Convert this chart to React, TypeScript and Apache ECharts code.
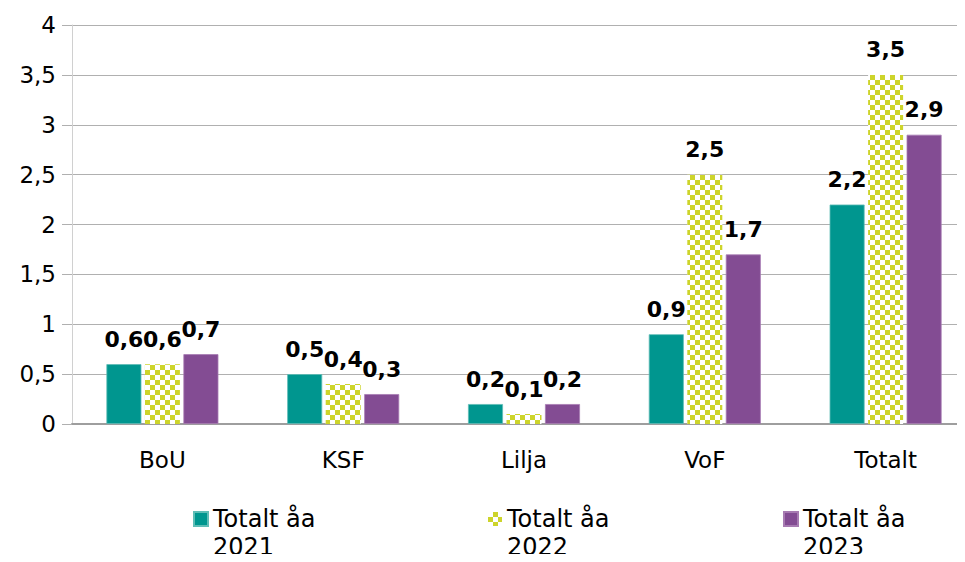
import React, { useEffect, useRef } from "react";
import * as echarts from "echarts";

const categories = ["BoU", "KSF", "Lilja", "VoF", "Totalt"];
const yearNames = ["Totalt åa 2021", "Totalt åa 2022", "Totalt åa 2023"];
const values2021 = [0.6, 0.5, 0.2, 0.9, 2.2];
const values2022 = [0.6, 0.4, 0.1, 2.5, 3.5];
const values2023 = [0.7, 0.3, 0.2, 1.7, 2.9];

const FONT = "'DejaVu Sans', sans-serif";
const fmt = (v: number) => String(v).replace(".", ",");

export default function App() {
  const ref = useRef<HTMLDivElement>(null);
  useEffect(() => {
    if (!ref.current) return;
    const chart = echarts.init(ref.current, null, { renderer: "svg" });
    const label = {
      show: true,
      position: "top",
      distance: 14,
      fontFamily: FONT,
      fontWeight: "bold",
      fontSize: 22,
      color: "#000",
      formatter: (p: any) => fmt(p.value),
    };
    const checker = {
      symbol: "rect",
      symbolSize: 1,
      color: "#cdd42b",
      backgroundColor: "#ffffff",
      dashArrayX: [
        [5, 5],
        [0, 5, 5, 0],
      ],
      dashArrayY: [5, 0],
      rotation: 0,
    };
    const legendBase = (name: string, left: number) => ({
      show: true,
      data: [name],
      left,
      top: 477,
      padding: 0,
      icon: "rect",
      itemWidth: 14,
      itemHeight: 14,
      itemGap: 5,
      formatter: (n: string) => n.replace(/^(.*) (\d{4})$/, " \n$1\n$2"),
      textStyle: {
        fontFamily: FONT,
        fontSize: 24,
        color: "#000",
        lineHeight: 28,
      },
    });
    chart.setOption({
      animation: false,
      backgroundColor: "#ffffff",
      textStyle: { fontFamily: FONT },
      grid: { left: 72, top: 25, width: 904, height: 399, containLabel: false },
      legend: [
        legendBase(yearNames[0], 193),
        legendBase(yearNames[1], 488),
        legendBase(yearNames[2], 783),
      ],
      xAxis: {
        type: "category",
        data: categories,
        axisLine: { lineStyle: { color: "#9e9e9e", width: 2 } },
        axisTick: { show: false },
        axisLabel: { fontFamily: FONT, fontSize: 23, color: "#000", margin: 24 },
      },
      yAxis: {
        type: "value",
        min: 0,
        max: 4,
        interval: 0.5,
        axisLine: { show: true, lineStyle: { color: "#d0d0d0", width: 1 } },
        axisTick: { show: true, length: 10, lineStyle: { color: "#b0b0b0" } },
        splitLine: { lineStyle: { color: "#b0b0b0", width: 1 } },
        axisLabel: {
          fontFamily: FONT,
          fontSize: 23,
          color: "#000",
          margin: 16,
          formatter: (v: number) => fmt(v),
        },
      },
      series: [
        {
          name: yearNames[0],
          type: "bar",
          data: values2021,
          barWidth: 35,
          barGap: "10%",
          itemStyle: { color: "#00968f", borderColor: "#5fbdb6", borderWidth: 0.8 },
          label,
        },
        {
          name: yearNames[1],
          type: "bar",
          data: values2022,
          barWidth: 35,
          barGap: "10%",
          itemStyle: { color: "#ffffff", decal: checker },
          label,
        },
        {
          name: yearNames[2],
          type: "bar",
          data: values2023,
          barWidth: 35,
          barGap: "10%",
          itemStyle: { color: "#834c93", borderColor: "#a77bb2", borderWidth: 0.8 },
          label,
        },
      ],
    });
    return () => chart.dispose();
  }, []);
  return (
    <div style={{ width: 965, height: 562, margin: -8, overflow: "hidden", position: "relative" }}>
      <div ref={ref} style={{ width: 990, height: 562 }} />
    </div>
  );
}
